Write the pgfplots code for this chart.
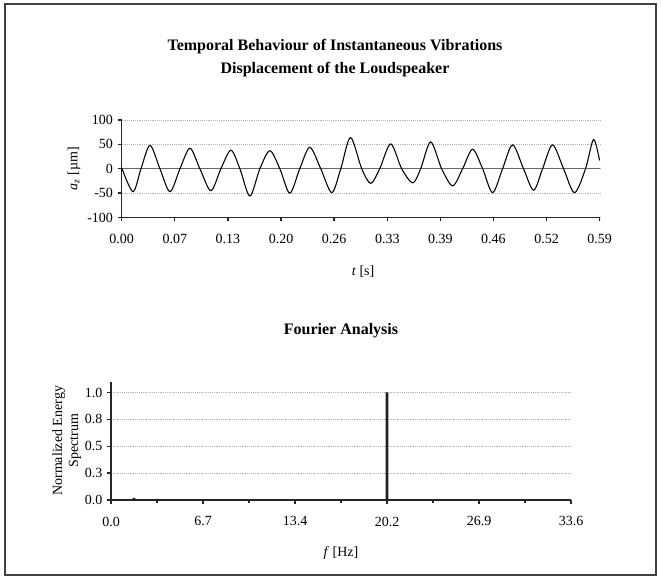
\documentclass[border=0pt]{standalone}
\usepackage{pgfplots}
\pgfplotsset{compat=1.18}
\usepackage{fontspec}
\setmainfont{Liberation Serif}

\pgfplotsset{
  vib/.style={
    scale only axis, anchor=south west,
    axis x line=bottom, axis y line=left,
    axis line style={-, line width=1.1pt, black!85},
    tick align=outside, major tick length=3pt,
    tick style={line width=1pt, black!85},
    ymajorgrids, major grid style={densely dotted, gray!60, line width=0.6pt},
    tick label style={font=\fontsize{10.5}{12}\selectfont},
    label style={font=\fontsize{10.5}{12}\selectfont},
    /pgf/number format/assume math mode=true,
    xticklabel style={yshift=-6pt},
    clip=false,
  }
}

\begin{document}
\begin{tikzpicture}[x=0.75pt, y=0.75pt]
\path[use as bounding box] (0,0) rectangle (661,579);
\draw[black!75, line width=0.9pt] (5,4) rectangle (656,575);

\node[font=\fontsize{12}{14}\selectfont\bfseries] at (335,532) {Temporal Behaviour of Instantaneous Vibrations};
\node[font=\fontsize{12}{14}\selectfont\bfseries] at (335,509) {Displacement of the Loudspeaker};
\node[font=\fontsize{12}{14}\selectfont\bfseries] at (341,248) {Fourier Analysis};

% time signal
\begin{axis}[vib, at={(91.28pt,271.13pt)}, width=358.5pt, height=73.1pt,
  xmin=0, xmax=0.59, ymin=-100, ymax=100,
  xtick={0,0.065556,0.131111,0.196667,0.262222,0.327778,0.393333,0.458889,0.524444,0.59},
  xticklabels={0.00,0.07,0.13,0.20,0.26,0.33,0.39,0.46,0.52,0.59},
  ytick={-100,-50,0,50,100}, yticklabels={-100,-50,0,50,100},
  xlabel={\textit{t} [s]}, xlabel style={at={(axis description cs:0.505,-0.56)}, anchor=center},
  ylabel={\textit{a}\textsubscript{\textit{z}} [µm]}, ylabel style={at={(axis description cs:-0.10,0.5)}, anchor=center},
]
\addplot[black!60, line width=0.7pt] coordinates {(0,0) (0.59,0)};
\addplot[black, line width=0.8pt, smooth] coordinates {
(0.000,2) (0.0139,-47) (0.0238,0) (0.0349,48) (0.0472,0) (0.0596,-47) (0.0719,0)
(0.0842,42) (0.0965,0) (0.1101,-45) (0.1224,0) (0.1348,38) (0.1459,0) (0.1582,-56)
(0.1705,0) (0.1829,37) (0.1952,0) (0.2075,-50) (0.2198,0) (0.2321,44) (0.2457,0)
(0.2593,-49) (0.2704,0) (0.2824,64) (0.2963,0) (0.3074,-30) (0.3185,0) (0.3320,51)
(0.3456,0) (0.3592,-29) (0.3690,0) (0.3814,55) (0.3949,0) (0.4085,-35) (0.4208,0)
(0.4331,40) (0.4455,0) (0.4578,-49) (0.4701,0) (0.4825,49) (0.4960,0) (0.5084,-44)
(0.5195,0) (0.5318,49) (0.5454,0) (0.5589,-49) (0.5725,0) (0.5824,60) (0.5898,17)
};
\end{axis}

% spectrum
\begin{axis}[vib, at={(83.25pt,59.25pt)}, width=345pt, height=88.7pt,
  xmin=0, xmax=33.6, ymin=0, ymax=1.1,
  xtick={0,6.72,13.44,20.16,26.88,33.6},
  xticklabels={0.0,6.7,13.4,20.2,26.9,33.6},
  minor xtick={3.36,10.08,16.8,23.52,30.24}, minor tick length=2pt,
  ytick={0,0.25,0.5,0.75,1}, yticklabels={0.0,0.3,0.5,0.8,1.0},
  xlabel={\textit{f} [Hz]}, xlabel style={at={(axis description cs:0.5,-0.45)}, anchor=center},
  ylabel={Normalized Energy\\Spectrum}, ylabel style={align=center, at={(axis description cs:-0.096,0.5)}, anchor=center},
]
\addplot[ybar, bar width=2pt, fill=black!88, draw=none] coordinates {(1.68,0.02) (3.36,0.01) (20.16,1.0)};
\end{axis}
\end{tikzpicture}
\end{document}
